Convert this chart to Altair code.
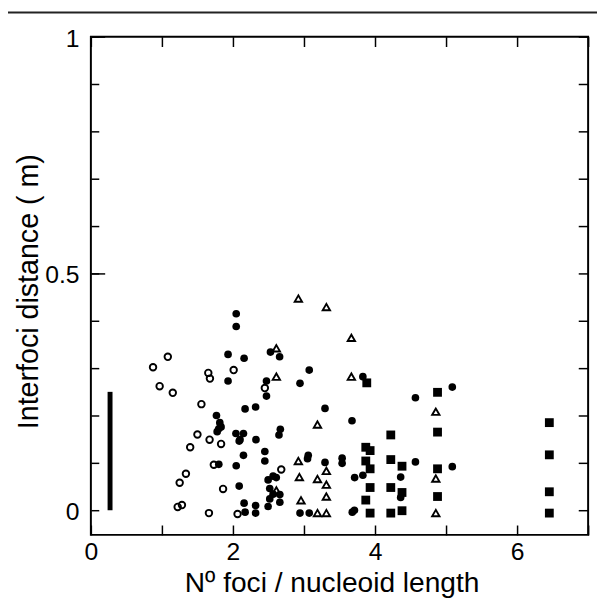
import altair as alt
import pandas as pd

# ---------------- data ----------------
# open circles
oc_x = [0.875, 1.083, 0.968, 1.153, 1.653, 1.676, 2.010, 1.556, 2.449, 1.500, 1.671,
        1.833, 1.398, 1.731, 1.338, 1.250, 1.861, 1.222, 1.282, 1.662, 2.065, 2.680]
oc_y = [0.302, 0.324, 0.262, 0.248, 0.290, 0.278, 0.296, 0.224, 0.258, 0.160, 0.149,
        0.140, 0.133, 0.096, 0.077, 0.058, 0.045, 0.007, 0.011, -0.006, -0.008, 0.086]

# filled circles
fc_x = [2.046, 2.046, 1.931, 2.157, 2.528, 1.931, 2.472, 2.472, 2.171, 2.319, 1.768,
        1.815, 1.833, 1.778, 1.800, 2.042, 2.148, 2.088, 2.100, 2.324, 1.801, 2.046,
        2.148, 2.449, 2.449, 2.088, 2.495, 2.565, 2.518, 2.518, 2.565, 2.495, 2.157,
        2.319, 2.319, 2.171, 2.657, 3.074, 2.944, 3.829, 3.296, 3.676, 4.569, 5.088,
        2.667, 2.648, 3.060, 3.050, 3.296, 3.537, 3.537, 4.569, 5.088, 3.713, 3.829,
        4.361, 4.361, 2.660, 2.660, 2.944, 3.074, 3.680, 3.710, 2.610]
fc_y = [0.415, 0.388, 0.329, 0.321, 0.334, 0.273, 0.273, 0.241, 0.214, 0.218, 0.200,
        0.185, 0.176, 0.166, 0.172, 0.162, 0.162, 0.146, 0.149, 0.149, 0.097, 0.094,
        0.116, 0.124, 0.104, 0.051, 0.064, 0.072, 0.046, 0.024, 0.034, 0.008, 0.015,
        0.010, -0.006, -0.004, 0.324, 0.296, 0.268, 0.282, 0.215, 0.189, 0.2375, 0.260,
        0.171, 0.159, 0.116, 0.109, 0.101, 0.110, 0.099, 0.102, 0.092, 0.069, 0.074,
        0.070, 0.027, 0.033, 0.017, -0.006, -0.006, -0.004, 0.000, 0.069]

# open triangles
tr_x = [2.921, 3.315, 3.667, 2.611, 2.611, 3.667, 3.190, 4.856, 2.921, 3.315, 2.935,
        3.190, 3.315, 2.611, 2.958, 3.315, 3.190, 3.315, 4.856, 4.856]
tr_y = [0.447, 0.429, 0.364, 0.342, 0.282, 0.282, 0.181, 0.208, 0.104, 0.083, 0.070,
        0.066, 0.054, 0.042, 0.021, 0.029, -0.006, -0.006, 0.067, -0.006]

# filled squares
sq_x = [3.884, 4.880, 4.880, 4.222, 3.870, 3.931, 3.870, 3.931, 4.222, 4.380, 4.880,
        3.931, 4.222, 4.380, 4.880, 3.870, 3.931, 4.222, 4.380, 6.454, 6.454, 6.454, 6.454]
sq_y = [0.269, 0.249, 0.165, 0.159, 0.133, 0.126, 0.104, 0.0875, 0.107, 0.093, 0.0875,
        0.048, 0.048, 0.0375, 0.029, 0.0215, -0.006, -0.006, -0.001, 0.185, 0.117, 0.039, -0.006]

# scale bar
bar_x = [0.27]
bar_y0 = [0.0]
bar_y1 = [0.25]

x_ticks = [0, 1, 2, 3, 4, 5, 6, 7]
y_minor = [round(i * 0.1, 1) for i in range(11)]
y_major = [0.5, 1.0]

X_DOMAIN = [0, 7]
Y_DOMAIN = [-0.052, 1.0]

# ---------------- chart ----------------
FONT = "Liberation Sans"
xs = alt.Scale(domain=X_DOMAIN, nice=False, zero=False)
ys = alt.Scale(domain=Y_DOMAIN, nice=False, zero=False)

common = dict(domain=False, grid=False, tickColor="black", tickWidth=1.5,
              labelFont=FONT, labelColor="black", titleFont=FONT,
              titleColor="black", titleFontWeight="normal",
              labelOverlap=False, labelFlush=False)

x_bottom = alt.Axis(orient="bottom", values=x_ticks, tickSize=10, offset=-10,
                    labelExpr="datum.value % 2 == 0 ? datum.label : ''",
                    labelFontSize=25, labelPadding=5,
                    title="Nº foci / nucleoid length", titleFontSize=28.5,
                    titlePadding=4, titleX=244, titleAlign="center", **common)
x_top = alt.Axis(orient="top", values=x_ticks, tickSize=10, offset=-10,
                 labels=False, title=None, **common)
y_left_minor = alt.Axis(orient="left", values=y_minor, tickSize=8, offset=-8,
                        labelExpr="abs(datum.value) < 1e-6 ? '0' : abs(datum.value - 0.5) < 1e-6 ? '0.5' : abs(datum.value - 1) < 1e-6 ? '1' : ''",
                        labelFontSize=25, labelPadding=12, labelOffset=1.5,
                        title="Interfoci distance ( m)", titleFontSize=29,
                        titlePadding=1, titleY=258, titleAlign="center", **common)
y_left_major = alt.Axis(orient="left", values=y_major, tickSize=14, offset=-14,
                        labels=False, title=None, **common)
y_right = alt.Axis(orient="right", values=y_minor, tickSize=10, offset=-10,
                   labels=False, title=None, **common)

df_oc = pd.DataFrame({"x": oc_x, "y": oc_y})
df_fc = pd.DataFrame({"x": fc_x, "y": fc_y})
df_tr = pd.DataFrame({"x": tr_x, "y": tr_y})
df_sq = pd.DataFrame({"x": sq_x, "y": sq_y})
df_bar = pd.DataFrame({"x": bar_x, "y0": bar_y0, "y1": bar_y1})

open_c = alt.Chart(df_oc).mark_point(shape="circle", filled=False, size=44,
                                     strokeWidth=1.9, color="black", opacity=1).encode(
    x=alt.X("x:Q", scale=xs, axis=x_bottom),
    y=alt.Y("y:Q", scale=ys, axis=y_left_minor))

filled_c = alt.Chart(df_fc).mark_point(shape="circle", filled=True, size=60,
                                       color="black", opacity=1).encode(
    x=alt.X("x:Q", scale=xs, axis=x_top),
    y=alt.Y("y:Q", scale=ys, axis=y_left_major))

tri = alt.Chart(df_tr).mark_point(shape="triangle-up", filled=False, size=56,
                                  strokeWidth=1.9, color="black", opacity=1).encode(
    x=alt.X("x:Q", scale=xs, axis=None),
    y=alt.Y("y:Q", scale=ys, axis=y_right))

sq = alt.Chart(df_sq).mark_point(shape="square", filled=True, size=80,
                                 color="black", opacity=1).encode(
    x=alt.X("x:Q", scale=xs, axis=None),
    y=alt.Y("y:Q", scale=ys, axis=None))

bar = alt.Chart(df_bar).mark_rule(strokeWidth=5, color="black").encode(
    x=alt.X("x:Q", scale=xs, axis=None),
    y=alt.Y("y0:Q", scale=ys, axis=None),
    y2="y1:Q")

frame_top = alt.Chart(df_bar).mark_rule(strokeWidth=2, color="#222222").encode(
    x=alt.value(-92), x2=alt.value(530), y=alt.value(-24.5))

chart = alt.layer(open_c, filled_c, tri, sq, bar, frame_top).resolve_axis(
    x="independent", y="independent"
).properties(
    width=504, height=505,
    autosize=alt.AutoSizeParams(type="none"),
    padding={"left": 84, "top": 25, "right": 9, "bottom": 64},
).configure_view(stroke="black", strokeWidth=2)

chart.save("out.html", embed_options={"renderer": "svg", "actions": False})
